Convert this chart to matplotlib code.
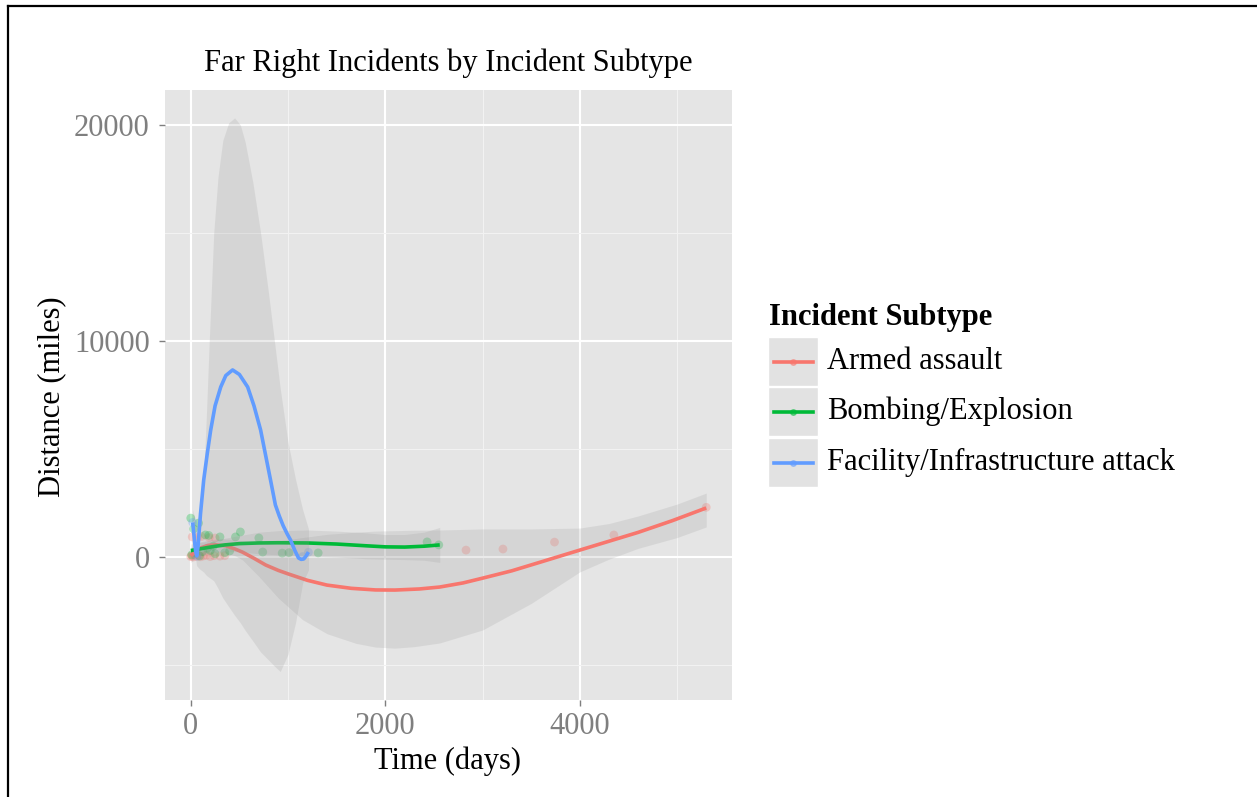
import matplotlib
matplotlib.use("Agg")
import matplotlib.pyplot as plt
from matplotlib.lines import Line2D
from matplotlib.patches import Rectangle

plt.rcParams['font.family'] = ['Liberation Serif', 'DejaVu Serif']

W, H = 1257, 797

# incident subtypes and their ggplot hues
subtypes = ["Armed assault", "Bombing/Explosion", "Facility/Infrastructure attack"]
colors = ["#F8766D", "#00BA38", "#619CFF"]

# raw incidents: days since first incident vs distance (miles)
armed_x = [0, 10, 25, 40, 60, 80, 100, 130, 160, 200, 240, 300, 15, 70, 110, 190, 250, 350,
           2830, 3210, 3740, 4350, 5300]
armed_y = [20, 60, 0, 120, 30, 90, 10, 50, 80, 20, 60, 40, 930, 920, 950, 900, 880, 60,
           320, 370, 690, 1020, 2300]
bomb_x = [0, 80, 30, 150, 185, 300, 460, 510, 700, 740, 940, 1010, 1310, 50, 120, 200, 250,
          350, 400, 2430, 2550, 10, 90, 170, 230]
bomb_y = [1800, 1570, 1300, 1020, 1000, 930, 930, 1160, 880, 230, 180, 200, 190, 200, 250,
          300, 150, 200, 280, 700, 560, 100, 50, 400, 500]
facil_x = [20, 65, 1150, 1210]
facil_y = [1600, 40, 20, 220]

# loess fits with confidence bands
armed_fit_x = [0, 50, 100, 180, 260, 360, 450, 530, 650, 770, 900, 1000, 1200, 1400, 1650,
               1900, 2100, 2350, 2560, 2800, 3000, 3300, 3600, 4000, 4300, 4600, 4950, 5300]
armed_fit_y = [60, 250, 420, 540, 560, 520, 380, 230, -60, -370, -620, -780, -1080, -1300,
               -1450, -1525, -1530, -1480, -1390, -1200, -980, -640, -230, 320, 730, 1140,
               1680, 2270]
armed_band_x = [0, 100, 200, 300, 460, 533, 700, 900, 1149, 1400, 1700, 1900, 2100, 2300,
                2560, 3000, 3500, 4000, 4300, 4600, 5000, 5300]
armed_lo = [-250, 150, 280, 250, 50, -140, -900, -1900, -2900, -3550, -4000, -4170, -4220,
            -4150, -3980, -3380, -2150, -690, -100, 400, 900, 1390]
armed_hi = [450, 700, 800, 850, 800, 750, 700, 750, 900, 1050, 1150, 1200, 1220, 1240, 1250,
            1300, 1300, 1340, 1550, 1900, 2450, 2960]

bomb_fit_x = [0, 100, 200, 350, 500, 700, 900, 1200, 1500, 1800, 2000, 2200, 2400, 2560]
bomb_fit_y = [300, 380, 460, 560, 620, 650, 660, 650, 600, 520, 470, 460, 500, 560]
bomb_lo = [0, 80, 200, 250, 250, 150, 100, 50, 0, -80, -100, -120, -150, -250]
bomb_hi = [600, 680, 720, 870, 990, 1150, 1220, 1250, 1200, 1120, 1040, 1040, 1150, 1370]

facil_fit_x = [20, 35, 50, 62, 75, 100, 133, 170, 205, 250, 308, 360, 430, 500, 585, 650,
               718, 770, 820, 870, 910, 950, 990, 1026, 1070, 1108, 1135, 1160, 1185, 1210]
facil_fit_y = [1600, 900, 250, 50, 500, 2000, 3565, 4800, 5880, 7000, 7870, 8400, 8660,
               8450, 7870, 7000, 5880, 4700, 3565, 2410, 1900, 1450, 1080, 787, 300, -46,
               -110, -90, 40, 230]
facil_band_x = [20, 60, 90, 133, 160, 190, 236, 280, 330, 390, 451, 510, 560, 640, 718, 800,
                860, 920, 1000, 1077, 1150, 1210]
facil_lo = [800, -400, -550, -700, -850, -950, -1100, -1450, -1900, -2300, -2700, -3050,
            -3400, -3900, -4400, -4770, -5050, -5300, -4500, -3050, -1200, -600]
facil_hi = [2200, 1400, 2200, 3700, 6500, 10000, 15000, 17600, 19300, 20100, 20330, 20000,
            19200, 17300, 15000, 12200, 10000, 7800, 5300, 3600, 2200, 1300]


def fx(px):
    return px / W


def fy(py):
    return 1 - py / H


fig = plt.figure(figsize=(W / 100, H / 100), dpi=100)
ax = fig.add_axes([fx(165), fy(700), (732 - 165) / W, (700 - 90) / H])
ax.set_facecolor("#E5E5E5")
for s in ax.spines.values():
    s.set_visible(False)

ax.set_xlim(-265, 5565)
ax.set_ylim(-6620, 21620)
ax.set_xticks([0, 2000, 4000])
ax.set_yticks([0, 10000, 20000])
ax.set_xticks([1000, 3000, 5000], minor=True)
ax.set_yticks([-5000, 5000, 15000], minor=True)
ax.grid(which="major", color="white", linewidth=1.5)
ax.grid(which="minor", color="#F2F2F2", linewidth=0.8)
ax.set_axisbelow(True)
ax.tick_params(which="major", length=4, width=1, color="#7F7F7F",
               labelcolor="#7F7F7F", labelsize=22)
ax.tick_params(axis="x", pad=5)
ax.tick_params(axis="y", pad=7)
ax.tick_params(which="minor", length=0)

# points
for xs, ys, c in [(armed_x, armed_y, colors[0]), (bomb_x, bomb_y, colors[1]),
                  (facil_x, facil_y, colors[2])]:
    ax.scatter(xs, ys, s=40, color=c, alpha=0.3, edgecolors="none", zorder=2)

# smooths: band then line, per group
groups = [
    (armed_band_x, armed_lo, armed_hi, armed_fit_x, armed_fit_y, colors[0]),
    (bomb_fit_x, bomb_lo, bomb_hi, bomb_fit_x, bomb_fit_y, colors[1]),
    (facil_band_x, facil_lo, facil_hi, facil_fit_x, facil_fit_y, colors[2]),
]
z = 3
for bx, lo, hi, lx, ly, c in groups:
    ax.fill_between(bx, lo, hi, color="#999999", alpha=0.2, linewidth=0, zorder=z)
    ax.plot(lx, ly, color=c, linewidth=2.6, solid_joinstyle="round",
            solid_capstyle="butt", zorder=z + 1)
    z += 2

# titles
fig.text(fx(448), fy(71), "Far Right Incidents by Incident Subtype", fontsize=22,
         ha="center", va="baseline")
fig.text(fx(448), fy(769), "Time (days)", fontsize=22, ha="center", va="baseline")
fig.text(fx(52), fy(397), "Distance (miles)", fontsize=22, ha="center", va="center",
         rotation=90)

# legend
fig.text(fx(769), fy(325), "Incident Subtype", fontsize=22, fontweight="bold",
         ha="left", va="baseline")
key_tops = [337, 387, 438]
for i, (lab, c) in enumerate(zip(subtypes, colors)):
    top = key_tops[i]
    fig.add_artist(Rectangle((fx(768), fy(top + 49)), 50 / W, 49 / H,
                             transform=fig.transFigure, facecolor="#E2E2E2",
                             edgecolor="white", linewidth=1))
    yc = top + 24.5
    fig.add_artist(Line2D([fx(774), fx(813)], [fy(yc), fy(yc)], transform=fig.transFigure,
                          color=c, linewidth=2.6))
    fig.add_artist(Line2D([fx(793.5)], [fy(yc)], transform=fig.transFigure, marker="o",
                          markersize=4, color=c, alpha=0.5))
    fig.text(fx(827), fy(yc), lab, fontsize=22, ha="left", va="center")

# outer frame
fig.add_artist(Line2D([fx(8), fx(W)], [fy(6), fy(6)], transform=fig.transFigure,
                      color="black", linewidth=1.6))
fig.add_artist(Line2D([fx(8), fx(8)], [fy(6), fy(H)], transform=fig.transFigure,
                      color="black", linewidth=1.6))

fig.savefig("out.png", dpi=100)
